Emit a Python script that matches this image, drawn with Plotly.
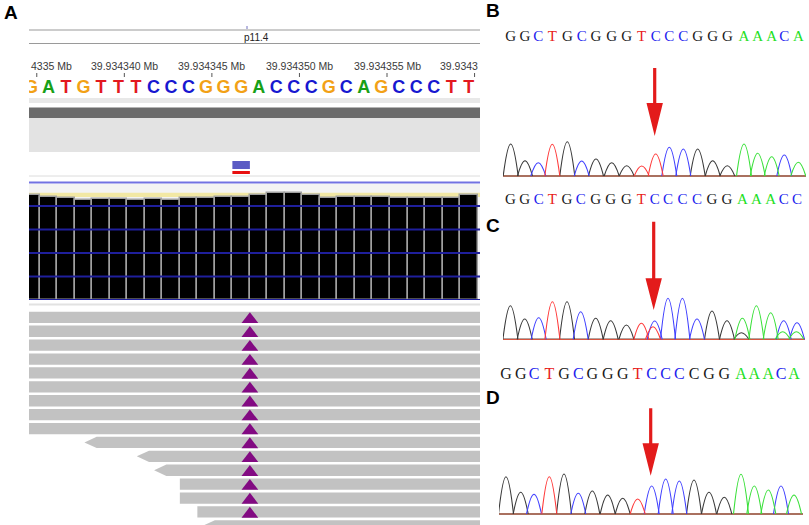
import plotly.graph_objects as go

W, H = 809, 525

# ======================= DATA =======================
# ---- Panel A (IGV view) ----
ref_bases = list("GATGTTTCCCGGGACCCGCAGCCCTT")
seq_start_bp = 39934335                      # genomic position of first (clipped) base
coverage = [89, 88, 87, 85, 86, 86, 85, 86, 85, 87, 87, 88, 88, 89, 91, 91,
            89, 87, 88, 88, 88, 87, 87, 87, 87, 89]
ruler_bp = [39934335, 39934340, 39934345, 39934350, 39934355, 39934360]
ruler_labels = ["4335 Mb", "39.934340 Mb", "39.934345 Mb", "39.934350 Mb",
                "39.934355 Mb", "39.9343"]
cytoband = "p11.4"
read_start = [-2, -2, -2, -2, -2, -2, -2, -2, -2, 3.05, 6.04, 7.03, 8.5, 8.5, 9.5, 9.8]
read_end = [28] * 16
read_reverse = [False] * 9 + [True, True, True, False, False, False, True]
insertion_pos = 12.5
insertion_rows = list(range(15))
variant_base = 12

# ---- Panels B, C, D (Sanger chromatograms) ----
calls_B = "GGCTGCGGGTCCCGGGAAACA"
callcol_B = "GGCTGCGGGTCCCGGGAAACA"
peak_pos_B = [7.7, 22, 35.3, 49.3, 64.3, 78.7, 93, 108.7, 123.7, 138.7, 152.7,
              166.3, 180.3, 194.7, 209.7, 224.3, 241, 254.7, 268.7, 281.3, 295.3]
peak_h_B = [32, 15.3, 13.3, 31.7, 34.3, 15, 17, 13.3, 10.3, 10, 22,
            28.7, 27, 27, 15.3, 10.3, 32, 22.7, 19.3, 21, 13.7]
peak_ch_B = "GGCTGCGGGTTCCGGGAAACA"
sec_pos_B, sec_h_B, sec_ch_B = [], [], ""

calls_C = "GGCTGCGGGTCCCCGGAAACC"
callcol_C = "GGCTGCGGGTCCCCGGAAACC"
peak_pos_C = [7.4, 21.7, 35.7, 49.4, 64, 77.7, 92.7, 107.7, 123.4, 138.4, 151.7,
              165, 179.4, 194, 209, 224, 239.4, 253.4, 267.7, 280.7, 294]
peak_h_C = [33.6, 20.3, 21.6, 37.6, 37.6, 27.6, 21, 18.6, 14.3, 16, 18.3,
            41, 41, 20.3, 28.3, 18.6, 21, 33.6, 26.6, 18.6, 16.6]
peak_ch_C = "GGCTGCGGGTCCCCGGAAACC"
sec_pos_C = [150, 238.4, 279.7, 293.4]
sec_h_C = [12.6, 6.6, 7.6, 7.6]
sec_ch_C = "TGAA"

calls_D = "GGCTGCGGGTCCCCGGAAACA"
callcol_D = "GGCTGCGGGTCCCGGGAAACA"
peak_pos_D = [7, 21.7, 35, 50.3, 65, 79.3, 93.3, 108.7, 123.7, 138.7, 152.7,
              166.7, 180.3, 195, 210, 225.3, 242, 255.3, 269.3, 282, 295]
peak_h_D = [37.3, 21.7, 19.7, 37.3, 40, 20.7, 23, 19, 15.7, 15, 28,
            35, 33, 34, 21.7, 16.7, 39.7, 28, 24, 28, 19]
peak_ch_D = "GGCTGCGGGTCCCGGGAAACA"
sec_pos_D, sec_h_D, sec_ch_D = [], [], ""

mutation_index = 10   # base call index marked by the red arrow

# ======================= STYLE =======================
IGV_COL = {"G": "#f2a116", "A": "#17a017", "T": "#e3191f", "C": "#1717d0"}
TRACE_COL = {"G": "#3a3a3a", "C": "#4040ff", "T": "#ff3a3a", "A": "#3ae03a"}
CALL_COL = {"G": "#1a1a1a", "C": "#2222ee", "T": "#e82020", "A": "#22e022"}


def fx(px):
    return px / W


def fy(py):
    return 1 - py / H


fig = go.Figure()
shapes = []
annotations = []


def rect_px(x0, y0, x1, y1, color, layer="below"):
    shapes.append(dict(type="rect", xref="paper", yref="paper",
                       x0=fx(x0), x1=fx(x1), y0=fy(y1), y1=fy(y0),
                       fillcolor=color, line=dict(width=0), layer=layer))


def hline_px(x0, x1, y, color, width=1, layer="below"):
    shapes.append(dict(type="line", xref="paper", yref="paper",
                       x0=fx(x0), x1=fx(x1), y0=fy(y), y1=fy(y),
                       line=dict(color=color, width=width), layer=layer))


# ---------------- Panel A decorations ----------------
IGV_L, IGV_R = 29, 480
hline_px(IGV_L, IGV_R, 30, "#9a9a9a", 1.2)
hline_px(IGV_L, IGV_R, 43.5, "#9a9a9a", 1.2)
shapes.append(dict(type="line", xref="paper", yref="paper", x0=fx(247), x1=fx(247),
                   y0=fy(29), y1=fy(26), line=dict(color="#7070c0", width=1)))
annotations.append(dict(text=cytoband, xref="paper", yref="paper", x=fx(256.5), y=fy(37),
                        xanchor="center", yanchor="middle", showarrow=False,
                        font=dict(family="Liberation Sans", size=10, color="#222")))
rect_px(IGV_L, 98, IGV_R, 103, "#e8e8e8")
rect_px(IGV_L, 107.5, IGV_R, 118, "#6b6b6b")
rect_px(IGV_L, 118, IGV_R, 152, "#e3e3e3")
hline_px(IGV_L, IGV_R, 176, "#dcdcdc", 1)
rect_px(IGV_L, 184, IGV_R, 300, "#f3f3f3")
hline_px(IGV_L, IGV_R, 182.5, "#7272e2", 2)
hline_px(IGV_L, IGV_R, 304.5, "#e2e2e2", 2)

# axes for panel A
X_LO, X_HI = -0.114, 25.64
layout_axes = dict(
    xaxis=dict(domain=[fx(IGV_L), fx(IGV_R)], range=[X_LO, X_HI], anchor="y", visible=False),
    yaxis=dict(domain=[fy(100), fy(20)], range=[100, 20], anchor="x", visible=False),
    yaxis2=dict(domain=[fy(300), fy(183)], range=[0, 99.57], anchor="x", visible=False),
    yaxis3=dict(domain=[fy(525), fy(305)], range=[14.94, -0.888], anchor="x", visible=False),
)

# ruler
TICK_OFFSET = 0.33
tick_x = [(bp - seq_start_bp) + TICK_OFFSET for bp in ruler_bp]
tx, ty = [], []
for t in tick_x:
    tx += [t, t, None]
    ty += [73, 77, None]
fig.add_trace(go.Scatter(x=tx, y=ty, mode="lines", line=dict(color="#555", width=1),
                         xaxis="x", yaxis="y", hoverinfo="skip", showlegend=False))
for k, (t, lab) in enumerate(zip(tick_x, ruler_labels)):
    if k == 0:
        xpos, anc = X_LO, "left"
    elif k == len(ruler_labels) - 1:
        xpos, anc = X_HI, "right"
    else:
        xpos, anc = t, "center"
    annotations.append(dict(text=lab, xref="x", yref="y", x=xpos, y=66, xanchor=anc,
                            yanchor="middle", showarrow=False,
                            font=dict(family="Liberation Sans", size=10.5, color="#3a3a3a")))

# reference sequence letters
fig.add_trace(go.Scatter(
    x=list(range(len(ref_bases))), y=[88] * len(ref_bases), mode="text",
    text=ref_bases, textposition="middle center",
    textfont=dict(family="Liberation Sans", size=18, weight="bold",
                  color=[IGV_COL[b] for b in ref_bases]),
    xaxis="x", yaxis="y", hoverinfo="skip", showlegend=False, cliponaxis=True))

# variant marker
shapes.append(dict(type="rect", xref="x", yref="paper", x0=variant_base - 0.5,
                   x1=variant_base + 0.5, y0=fy(169), y1=fy(161),
                   fillcolor="#5b5bc4", line=dict(width=0)))
shapes.append(dict(type="rect", xref="x", yref="paper", x0=variant_base - 0.5,
                   x1=variant_base + 0.5, y0=fy(174), y1=fy(171),
                   fillcolor="#e81010", line=dict(width=0)))

# coverage
shapes.append(dict(type="rect", xref="x domain", yref="y2", x0=0, x1=1, y0=87.6, y1=91.2,
                   fillcolor="#f2e8a4", line=dict(width=0), layer="below"))
fig.add_trace(go.Bar(x=list(range(len(coverage))), y=coverage, width=1,
                     marker=dict(color="#000000", line=dict(color="#a0a0a0", width=1.5)),
                     xaxis="x", yaxis="y2", hoverinfo="skip", showlegend=False))
for gv in range(0, 100, 20):
    shapes.append(dict(type="line", xref="x domain", yref="y2", x0=0, x1=1, y0=gv, y1=gv,
                       line=dict(color="#1f1f9c", width=2), layer="above"))

# reads
READ_HALF, TIP = 0.406, 0.7
rx, ry = [], []
for r, (s, e, rev) in enumerate(zip(read_start, read_end, read_reverse)):
    top, bot = r - READ_HALF, r + READ_HALF
    if rev:
        rx += [s, s + TIP, e, e, s + TIP, s, None]
        ry += [r, top, top, bot, bot, r, None]
    else:
        rx += [s, e, e, s, s, None]
        ry += [top, top, bot, bot, top, None]
fig.add_trace(go.Scatter(x=rx, y=ry, mode="lines", fill="toself", fillcolor="#c2c2c2",
                         line=dict(width=0, color="#c2c2c2"), xaxis="x", yaxis="y3",
                         hoverinfo="skip", showlegend=False))
fig.add_trace(go.Scatter(x=[insertion_pos] * len(insertion_rows),
                         y=[r + 0.15 for r in insertion_rows], mode="markers",
                         marker=dict(symbol="triangle-up", size=14.5, color="#820a82",
                                     line=dict(width=0)),
                         xaxis="x", yaxis="y3", hoverinfo="skip", showlegend=False))

# ---------------- Panels B, C, D ----------------
FOOT = 7.5
LETTER_Y = 139


def peak_segments(pos, hs, chans, channel):
    xs, ys = [], []
    for p, h, c in zip(pos, hs, chans):
        if c == channel:
            xs += [p - FOOT, p, p + FOOT, None]
            ys += [0, h, 0, None]
    return xs, ys


panels = [
    dict(label="B", calls=calls_B, callcol=callcol_B, pos=peak_pos_B, h=peak_h_B,
         ch=peak_ch_B, spos=sec_pos_B, sh=sec_h_B, sch=sec_ch_B,
         xdom=(503, 806), ydom=(30, 180), ybase=176, font=15,
         arrow=(108, 73, 40), lab=(493, 10)),
    dict(label="C", calls=calls_C, callcol=callcol_C, pos=peak_pos_C, h=peak_h_C,
         ch=peak_ch_C, spos=sec_pos_C, sh=sec_h_C, sch=sec_ch_C,
         xdom=(503, 805), ydom=(190, 343.3), ybase=339.3, font=15,
         arrow=(117.6, 61, 29.3), lab=(493, 225)),
    dict(label="D", calls=calls_D, callcol=callcol_D, pos=peak_pos_D, h=peak_h_D,
         ch=peak_ch_D, spos=sec_pos_D, sh=sec_h_D, sch=sec_ch_D,
         xdom=(499, 803), ydom=(365, 518), ybase=514, font=16,
         arrow=(105.7, 70.7, 38.3), lab=(493, 397)),
]

CHANNELS = ["G", "C", "A", "T"]
for k, P in enumerate(panels):
    xi, yi = k + 2, k + 4
    xa, ya = f"x{xi}", f"y{yi}"
    length = P["xdom"][1] - P["xdom"][0]
    y_lo = -(P["ydom"][1] - P["ybase"])
    y_hi = P["ybase"] - P["ydom"][0]
    layout_axes[f"xaxis{xi}"] = dict(domain=[fx(P["xdom"][0]), fx(P["xdom"][1])],
                                     range=[0, length], anchor=ya, visible=False)
    layout_axes[f"yaxis{yi}"] = dict(domain=[fy(P["ydom"][1]), fy(P["ydom"][0])],
                                     range=[y_lo, y_hi], anchor=xa, visible=False)
    # baselines of each dye channel
    for channel in CHANNELS:
        fig.add_trace(go.Scatter(x=[0, length], y=[0, 0], mode="lines",
                                 line=dict(color=TRACE_COL[channel], width=1),
                                 xaxis=xa, yaxis=ya, hoverinfo="skip", showlegend=False))
    # peaks (primary + secondary)
    for channel in CHANNELS:
        xs, ys = peak_segments(P["pos"], P["h"], P["ch"], channel)
        sx, sy = peak_segments(P["spos"], P["sh"], P["sch"], channel)
        xs += sx
        ys += sy
        if xs:
            fig.add_trace(go.Scatter(x=xs, y=ys, mode="lines",
                                     line=dict(color=TRACE_COL[channel], width=1.1,
                                               shape="spline", smoothing=1.3),
                                     xaxis=xa, yaxis=ya, hoverinfo="skip", showlegend=False))
    # base calls
    fig.add_trace(go.Scatter(
        x=P["pos"], y=[LETTER_Y] * len(P["calls"]), mode="text", text=list(P["calls"]),
        textposition="middle center",
        textfont=dict(family="Liberation Serif", size=P["font"],
                      color=[CALL_COL[c] for c in P["callcol"]]),
        xaxis=xa, yaxis=ya, hoverinfo="skip", showlegend=False, cliponaxis=False))
    # red arrow at the mutation
    ax = P["pos"][mutation_index] - 1
    top, head, tip = P["arrow"]
    sw, hw = 1.6, 8.2
    path = (f"M {ax - sw},{top} L {ax + sw},{top} L {ax + sw},{head} L {ax + hw},{head} "
            f"L {ax},{tip} L {ax - hw},{head} L {ax - sw},{head} Z")
    shapes.append(dict(type="path", xref=xa, yref=ya, path=path,
                       fillcolor="#e31b1b", line=dict(width=0), layer="above"))
    annotations.append(dict(text=f"<b>{P['label']}</b>", xref="paper", yref="paper",
                            x=fx(P["lab"][0]), y=fy(P["lab"][1]), xanchor="center",
                            yanchor="middle", showarrow=False,
                            font=dict(family="Liberation Sans", size=19, color="#000")))

annotations.append(dict(text="<b>A</b>", xref="paper", yref="paper", x=fx(11), y=fy(12),
                        xanchor="center", yanchor="middle", showarrow=False,
                        font=dict(family="Liberation Sans", size=19, color="#000")))

fig.update_layout(
    width=W, height=H, margin=dict(l=0, r=0, t=0, b=0),
    paper_bgcolor="white", plot_bgcolor="rgba(0,0,0,0)",
    showlegend=False, shapes=shapes, annotations=annotations, bargap=0,
    **layout_axes,
)

fig.write_html("out.html", config={"displayModeBar": False},
               post_script="document.body.style.margin='0';document.body.style.overflow='hidden';")
